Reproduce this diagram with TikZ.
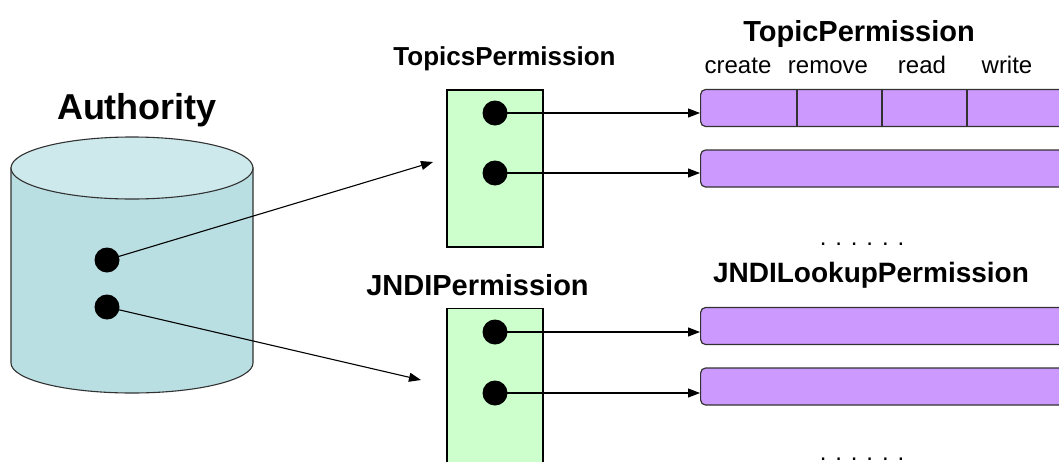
\documentclass[tikz,border=0pt]{standalone}
\usepackage{fontspec}
\setmainfont{Liberation Sans}
\usetikzlibrary{arrows.meta}
\definecolor{cylbody}{RGB}{186,223,227}
\definecolor{cyltop}{RGB}{205,233,236}
\definecolor{permgreen}{RGB}{204,255,204}
\definecolor{permpurple}{RGB}{204,153,255}
\definecolor{edge}{RGB}{50,50,50}
\tikzset{
  x=1pt, y=1pt,
  title/.style={anchor=base, inner sep=0pt, font=\bfseries\fontsize{#1}{#1}\selectfont},
  action/.style={anchor=base, inner sep=0pt, font=\fontsize{24}{24}\selectfont},
  holder/.style={draw=black, line width=1.1pt, fill=permgreen, minimum width=96pt, inner sep=0pt},
  ref/.style={circle, fill=black, minimum size=25pt, inner sep=0pt},
  bar/.style={draw=edge, line width=1.2pt, fill=permpurple, rounded corners=5pt, minimum width=380pt, minimum height=37pt, inner sep=0pt, anchor=west},
  link/.style={line width=1.1pt, -{Triangle[length=12pt,width=9pt]}},
}
\begin{document}
\begin{tikzpicture}
\useasboundingbox (0,0) rectangle (1059,-461);
\clip (0,0) rectangle (1059,-461);

% Authority store drawn as a cylinder
\filldraw[fill=cylbody, draw=edge, line width=1.1pt]
  (11,-168) -- (11,-363) arc[start angle=180, end angle=360, x radius=121, y radius=30]
  -- (253,-168) -- cycle;
\filldraw[fill=cyltop, draw=edge, line width=1.1pt] (132,-168) ellipse [x radius=121, y radius=31];
\node[title=36] (authlbl) at (137,-119) {Authority};
\node[ref] (a1) at (107,-260) {};
\node[ref] (a2) at (107,-307) {};

% Permission holders
\node[holder, minimum height=157pt] (topics) at (495,-168.5) {};
\node[holder, minimum height=170pt, anchor=north] (jndi) at (495,-308) {};
\node[title=26] (topicslbl) at (504.5,-65) {TopicsPermission};
\node[title=29] (jndilbl) at (477.5,-295) {JNDIPermission};

\node[ref] (t1) at (495,-113) {};
\node[ref] (t2) at (495,-173) {};
\node[ref] (j1) at (495,-332) {};
\node[ref] (j2) at (495,-393) {};

% Individual permissions
\node[bar] (tp1) at (700,-108) {};
\node[bar] (tp2) at (700,-168.5) {};
\node[bar] (jp1) at (700,-326) {};
\node[bar] (jp2) at (700,-386.5) {};
\foreach \xx in {797,882,967}
  \draw[edge, line width=1.1pt] (\xx,-90) -- (\xx,-126);

\node[title=29] (tplbl) at (859,-41) {TopicPermission};
\node[action] (create) at (738,-73) {create};
\node[action] (remove) at (828,-73) {remove};
\node[action] (read) at (922,-73) {read};
\node[action] (write) at (1007,-73) {write};
\node[action] (more1) at (862,-245) {. . . . . .};
\node[title=28] (jlplbl) at (871,-282) {JNDILookupPermission};
\node[action] (more2) at (862,-460.5) {. . . . . .};

% Connectors
\coordinate (topicsin) at (433,-162);
\coordinate (jndiin) at (421,-380);
\draw[link] (a1.center) -- (topicsin);
\draw[link] (a2.center) -- (jndiin);
\draw[link] (t1.center) -- (tp1.west |- t1);
\draw[link] (t2.center) -- (tp2.west |- t2);
\draw[link] (j1.center) -- (jp1.west |- j1);
\draw[link] (j2.center) -- (jp2.west |- j2);
\end{tikzpicture}
\end{document}
